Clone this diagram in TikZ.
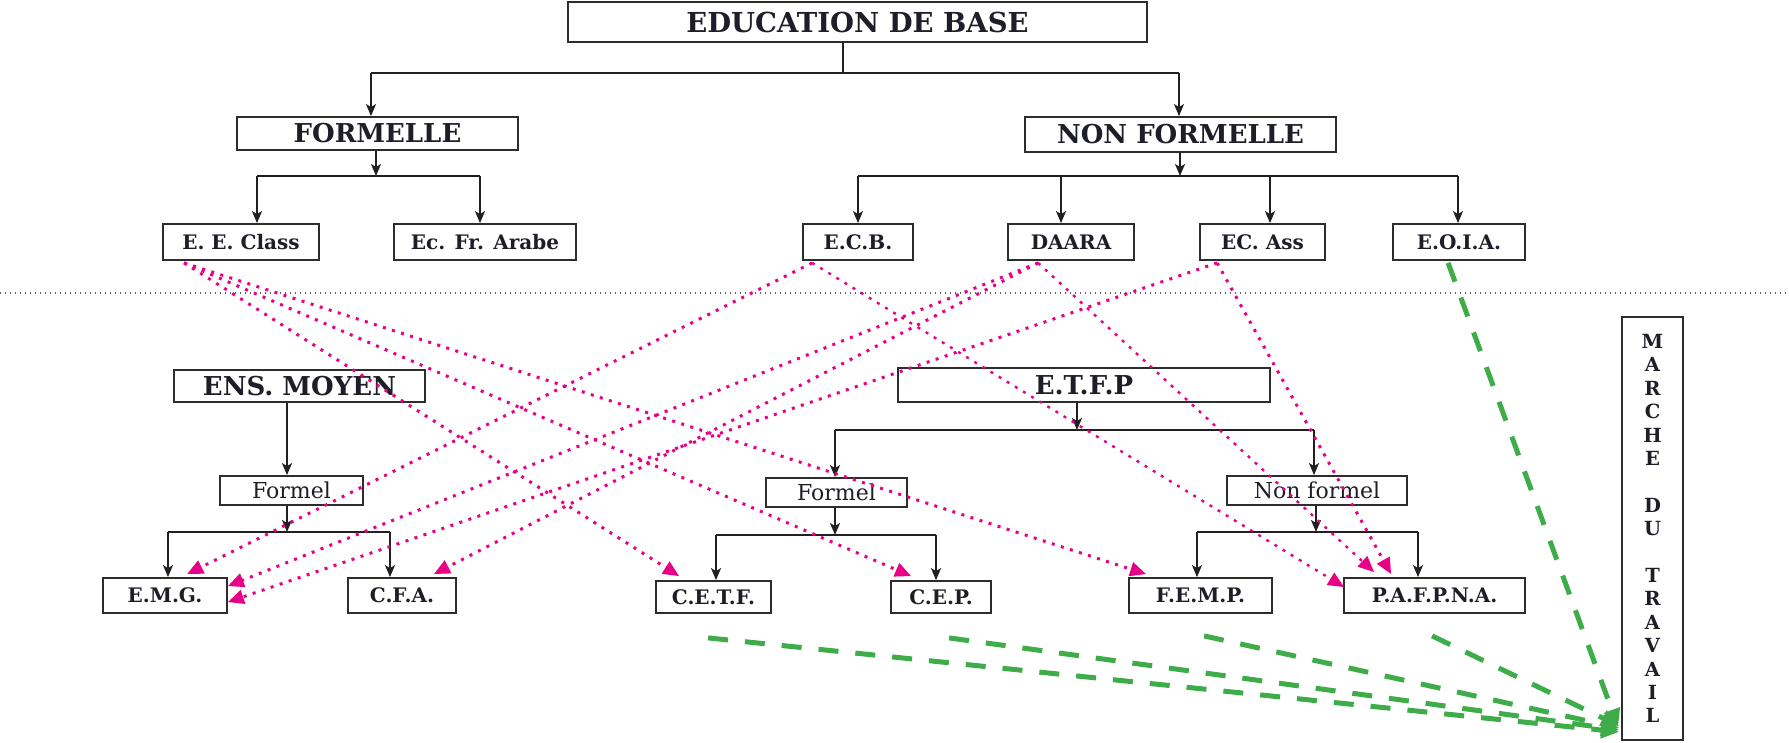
\documentclass[tikz,border=0pt]{standalone}
\usepackage{fontspec}
\setmainfont{DejaVu Serif}
\usetikzlibrary{arrows.meta,calc}
\definecolor{boxc}{RGB}{45,45,45}
\definecolor{linec}{RGB}{35,31,32}
\definecolor{pinkc}{RGB}{232,0,135}
\definecolor{greenc}{RGB}{62,172,72}
\definecolor{sepc}{RGB}{90,90,90}
\definecolor{txtc}{RGB}{30,30,40}
\begin{document}
\begin{tikzpicture}[x=1pt,y=-1pt,
  box/.style={draw=boxc, line width=1.8pt, inner sep=0pt, text=txtc, anchor=center},
  hdr/.style={box, font=\bfseries\fontsize{26}{28}\selectfont},
  lbl/.style={box, font=\bfseries\fontsize{20}{22}\selectfont},
  reg/.style={box, font=\fontsize{22}{24}\selectfont},
  tree/.style={draw=linec, line width=1.6pt},
  tarr/.style={tree, -{Stealth[length=12pt,width=10pt,inset=3pt]}},
  pinkarr/.style={draw=pinkc, line width=3pt, dash pattern=on 3pt off 6.5pt, -{Triangle[length=16pt,width=14pt]}},
  greenarr/.style={draw=greenc, line width=5pt, dash pattern=on 20pt off 17pt, -{Triangle[length=18pt,width=16pt]}},
  sepline/.style={draw=sepc, line width=1.4pt, dash pattern=on 1.4pt off 3.6pt}]
\useasboundingbox (0,0) rectangle (1789,743);

% ---------- boxes ----------
\node[hdr, minimum width=579pt, minimum height=40pt, font=\bfseries\fontsize{27.5}{29}\selectfont] (edu) at (857.5,22) {EDUCATION DE BASE};
\node[hdr, minimum width=281pt, minimum height=33pt] (formelle) at (377.5,133.5) {FORMELLE};
\node[hdr, minimum width=311pt, minimum height=35pt] (nonformelle) at (1180.5,134.5) {NON FORMELLE};

\node[lbl, minimum width=156pt, minimum height=36pt] (eeclass) at (241,242) {E. E. Class};
\node[lbl, minimum width=182pt, minimum height=36pt] (ecfr) at (485,242) {Ec. Fr. Arabe};
\node[lbl, minimum width=110pt, minimum height=36pt] (ecb) at (858,242) {E.C.B.};
\node[lbl, minimum width=126pt, minimum height=36pt] (daara) at (1071,242) {DAARA};
\node[lbl, minimum width=125pt, minimum height=36pt] (ecass) at (1262.5,242) {EC. Ass};
\node[lbl, minimum width=132pt, minimum height=36pt] (eoia) at (1459,242) {E.O.I.A.};

\node[hdr, minimum width=251pt, minimum height=32pt] (ensmoyen) at (299.5,386) {ENS. MOYEN};
\node[reg, minimum width=143pt, minimum height=29pt] (formelL) at (291.5,490.5) {Formel};
\node[lbl, minimum width=124pt, minimum height=35pt] (emg) at (165,595.5) {E.M.G.};
\node[lbl, minimum width=108pt, minimum height=35pt] (cfa) at (402,595.5) {C.F.A.};

\node[hdr, minimum width=372pt, minimum height=34pt] (etfp) at (1084,385) {E.T.F.P};
\node[reg, minimum width=141pt, minimum height=29pt] (formelR) at (836.5,492.5) {Formel};
\node[reg, minimum width=180pt, minimum height=29pt] (nonformel) at (1317,490.5) {Non formel};
\node[lbl, minimum width=115pt, minimum height=32pt] (cetf) at (713.5,597) {C.E.T.F.};
\node[lbl, minimum width=100pt, minimum height=32pt] (cep) at (941,597) {C.E.P.};
\node[lbl, minimum width=143pt, minimum height=35pt] (femp) at (1200.5,595.5) {F.E.M.P.};
\node[lbl, minimum width=181pt, minimum height=35pt] (pafpna) at (1434.5,595.5) {P.A.F.P.N.A.};

\node[box, minimum width=61pt, minimum height=423pt, align=center,
      font=\bfseries\fontsize{19.5}{23.4}\selectfont] (marche) at (1652.5,528.5)
  {M\\A\\R\\C\\H\\E\\[23.4pt]D\\U\\[23.4pt]T\\R\\A\\V\\A\\I\\L};

% ---------- separator ----------
\coordinate (sepL) at (0,293);
\coordinate (sepR) at (1789,293);
\draw[sepline] (sepL) -- (sepR);

% ---------- tree connectors ----------
\coordinate (j1) at (843,73); \coordinate (b1L) at (371,73); \coordinate (b1R) at (1179,73);
\draw[tree] (edu.south -| j1) -- (j1);
\draw[tree] (b1L) -- (b1R);
\draw[tarr] (b1L) -- (formelle.north -| b1L);
\draw[tarr] (b1R) -- (nonformelle.north -| b1R);

\coordinate (j2) at (376,176); \coordinate (b2L) at (257,176); \coordinate (b2R) at (480,176);
\draw[tarr] (formelle.south -| j2) -- (j2);
\draw[tree] (b2L) -- (b2R);
\draw[tarr] (b2L) -- (eeclass.north -| b2L);
\draw[tarr] (b2R) -- (ecfr.north -| b2R);

\coordinate (j3) at (1180,176);
\coordinate (b3a) at (858,176); \coordinate (b3b) at (1061,176);
\coordinate (b3c) at (1270,176); \coordinate (b3d) at (1458,176);
\draw[tarr] (nonformelle.south -| j3) -- (j3);
\draw[tree] (b3a) -- (b3d);
\draw[tarr] (b3a) -- (ecb.north -| b3a);
\draw[tarr] (b3b) -- (daara.north -| b3b);
\draw[tarr] (b3c) -- (ecass.north -| b3c);
\draw[tarr] (b3d) -- (eoia.north -| b3d);

\coordinate (x4) at (287,440);
\draw[tarr] (ensmoyen.south -| x4) -- (formelL.north -| x4);
\coordinate (j5) at (287,532); \coordinate (b5L) at (168,532); \coordinate (b5R) at (390,532);
\draw[tarr] (formelL.south -| j5) -- (j5);
\draw[tree] (b5L) -- (b5R);
\draw[tarr] (b5L) -- (emg.north -| b5L);
\draw[tarr] (b5R) -- (cfa.north -| b5R);

\coordinate (j6) at (1077,430); \coordinate (b6L) at (835,430); \coordinate (b6R) at (1314,430);
\draw[tarr] (etfp.south -| j6) -- (j6);
\draw[tree] (b6L) -- (b6R);
\draw[tarr] (b6L) -- (formelR.north -| b6L);
\draw[tarr] (b6R) -- (nonformel.north -| b6R);

\coordinate (j7) at (835,535); \coordinate (b7L) at (716,535); \coordinate (b7R) at (936,535);
\draw[tarr] (formelR.south -| j7) -- (j7);
\draw[tree] (b7L) -- (b7R);
\draw[tarr] (b7L) -- (cetf.north -| b7L);
\draw[tarr] (b7R) -- (cep.north -| b7R);

\coordinate (j8) at (1316,532); \coordinate (b8L) at (1197,532); \coordinate (b8R) at (1418,532);
\draw[tarr] (nonformel.south -| j8) -- (j8);
\draw[tree] (b8L) -- (b8R);
\draw[tarr] (b8L) -- (femp.north -| b8L);
\draw[tarr] (b8R) -- (pafpna.north -| b8R);

% ---------- pink dotted arrows ----------
\coordinate (sEE) at ($(eeclass.south west)+(22,2)$);
\coordinate (sECB) at ($(ecb.south west)+(10,2)$);
\coordinate (sDA) at ($(daara.south west)+(31,2)$);
\coordinate (sECA) at ($(ecass.south west)+(18,2)$);

\draw[pinkarr] (sEE) -- ($(cetf.north west)+(24,-4)$);
\draw[pinkarr] (sEE) -- ($(cep.north west)+(21,-4)$);
\draw[pinkarr] (sEE) -- ($(femp.north west)+(18,-3)$);
\draw[pinkarr] (sECB) -- ($(emg.north west)+(85,-3)$);
\draw[pinkarr, line width=2.4pt] (sECB) -- ($(pafpna.north west)+(1,10)$);
\draw[pinkarr] (sDA) -- ($(emg.north east)+(0,9)$);
\draw[pinkarr] (sDA) -- ($(cfa.north east)+(-23,-3)$);
\draw[pinkarr, line width=2.4pt] (sDA) -- ($(pafpna.north west)+(31,-5)$);
\draw[pinkarr] (sECA) -- ($(emg.north east)+(0,25)$);
\draw[pinkarr] (sECA) -- ($(pafpna.north west)+(48,-3)$);

% ---------- green dashed arrows ----------
\coordinate (gEO) at ($(eoia.south west)+(56,2)$);
\coordinate (gCETF) at ($(cetf.south west)+(53,24)$);
\coordinate (gCEP) at ($(cep.south west)+(59,24)$);
\coordinate (gFEMP) at ($(femp.south west)+(76,22)$);
\coordinate (gPAF) at ($(pafpna.south west)+(89,22)$);

\draw[greenarr] (gEO) -- ($(marche.south west)+(-3,-14)$);
\draw[greenarr] (gCETF) -- ($(marche.south west)+(-2,-9)$);
\draw[greenarr] (gCEP) -- ($(marche.south west)+(-2,-11)$);
\draw[greenarr] (gFEMP) -- ($(marche.south west)+(-2,-13)$);
\draw[greenarr] (gPAF) -- ($(marche.south west)+(-2,-15)$);
\end{tikzpicture}
\end{document}
